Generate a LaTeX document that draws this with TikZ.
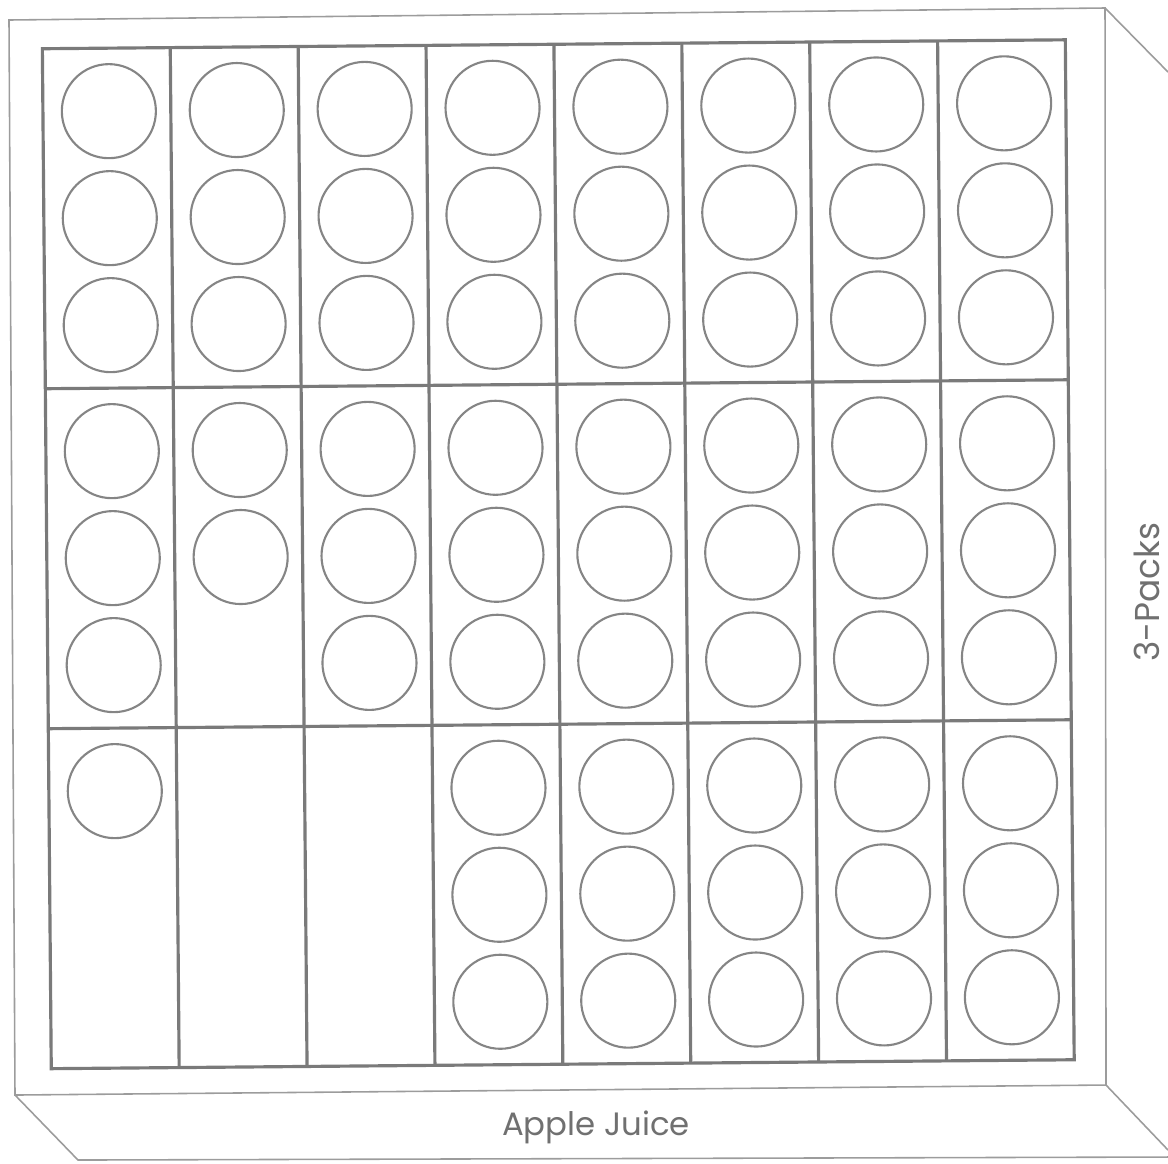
\documentclass[tikz,border=0pt]{standalone}
\usepackage{fontspec}
\setmainfont{Poppins}
\usetikzlibrary{positioning,calc}
\definecolor{gridgray}{HTML}{7A7A7A}
\definecolor{cangray}{HTML}{858585}
\definecolor{boxgray}{HTML}{9C9C9C}
\definecolor{labelgray}{HTML}{707070}

\tikzset{
  can/.style={circle, draw=cangray, line width=0.6pt, inner sep=0pt, minimum size=0.94cm},
  traygrid/.style={draw=gridgray, line width=0.9pt},
  boxline/.style={draw=boxgray, line width=0.45pt},
  boxlabel/.style={text=labelgray, inner sep=0pt}
}

\begin{document}
\begin{tikzpicture}[x=0.01cm, y=-0.01cm]
  \useasboundingbox (0,0) rectangle (1168,1163);

  % carton outline
  \coordinate (ftl) at (9,20);
  \coordinate (ftr) at (1105,8);
  \coordinate (fbr) at (1106,1085);
  \coordinate (fbl) at (15,1095);
  \coordinate (sidetop) at (1168,72);
  \coordinate (sidebot) at (1168,1150);
  \coordinate (basel) at (78,1160);
  \coordinate (baser) at (1168,1157);
  \draw[boxline] (ftl) -- (ftr) -- (fbr) -- (fbl) -- cycle;
  \draw[boxline] (ftr) -- (sidetop);
  \draw[boxline] (fbr) -- (sidebot);
  \draw[boxline] (fbl) -- (basel) -- (baser);

  % tray of 3-packs
  \begin{scope}[rotate around={0.5:(584,580)}]
    \draw[traygrid] (47,44) rectangle (1070,1064);
    \draw[traygrid] (47,384) -- (1070,384);
    \draw[traygrid] (47,724) -- (1070,724);
    \foreach \x in {1,...,7}
      \draw[traygrid] ({47+127.9*\x},44) -- ({47+127.9*\x},1064);

    \foreach \col/\na/\nb/\nc in {1/3/3/1,2/3/2/0,3/3/3/0,4/3/3/3,5/3/3/3,6/3/3/3,7/3/3/3,8/3/3/3} {
      \foreach \row/\n in {1/\na,2/\nb,3/\nc} {
        \ifnum\n>0
          \foreach \k in {1,...,\n}
            \node[can] (can-\row-\col-\k) at ({49+127.9*(\col-0.5)},{44+340*(\row-1)+63+107*(\k-1)}) {};
        \fi
      }
    }
  \end{scope}

  \node[boxlabel, font=\fontsize{9.2}{11}\selectfont] (front) at (596,1127) {Apple Juice};
  \node[boxlabel, font=\fontsize{9.8}{12}\selectfont, rotate=90] (side) at (1147,592) {3-Packs};
\end{tikzpicture}
\end{document}
